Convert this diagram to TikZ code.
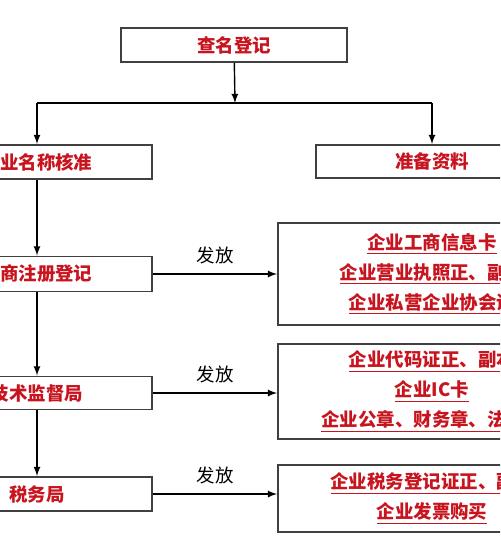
\documentclass[tikz,border=0pt]{standalone}
\usepackage{fontspec}
\newfontfamily\cjk{Noto Sans CJK SC}
\definecolor{boxred}{RGB}{200,20,30}

\begin{document}
\begin{tikzpicture}[x=0.02cm, y=-0.02cm,
  box/.style={draw=black!75, line width=1.1pt, rectangle, inner sep=0pt,
    font=\cjk\bfseries\fontsize{10.5}{17}\selectfont, text=boxred, align=center},
  give/.style={font=\cjk\fontsize{10.5}{13}\selectfont, text=black}]

\useasboundingbox (0,0) rectangle (500,550);
\clip (0,0) rectangle (500,550);

% top step
\node[box, minimum width=4.52cm, minimum height=0.68cm] (name_check) at (234,45) {查名登记};
\coordinate (split) at (235,103);
\draw[->, >=latex, line width=0.8pt] (name_check) -- (split);
\draw[line width=0.8pt] (split -| 37,0) -- (split -| 432,0);


% left column
\node[box, minimum width=4.6cm, minimum height=0.68cm] (name_approval) at (37,162) {企业名称核准};
\node[box, minimum width=4.6cm, minimum height=0.7cm] (registration) at (37,274) {工商注册登记};
\node[box, minimum width=4.6cm, minimum height=0.66cm] (quality_bureau) at (37,393) {技术监督局};
\node[box, minimum width=4.6cm, minimum height=0.68cm] (tax_bureau) at (37,494) {税务局};

\draw[->, >=latex, line width=0.8pt] (split -| name_approval) -- (name_approval);
\draw[->, >=latex, line width=0.8pt] (name_approval) -- (registration);
\draw[->, >=latex, line width=0.8pt] (registration) -- (quality_bureau);
\draw[->, >=latex, line width=0.8pt] (quality_bureau) -- (tax_bureau);


% right column
\node[box, minimum width=4.64cm, minimum height=0.66cm] (prepare) at (432,161.5) {准备资料};
\draw[->, >=latex, line width=0.8pt] (split -| prepare) -- (prepare);

\node[box, minimum width=6.16cm, minimum height=2.04cm] (cards_reg) at (432,274)
  {\underline{企业工商信息卡}\\ \underline{企业营业执照正、副本}\\ \underline{企业私营企业协会证}};
\node[box, minimum width=6.16cm, minimum height=1.9cm] (cards_quality) at (432,391.5)
  {\underline{企业代码证正、副本}\\ \underline{企业IC卡}\\ \underline{企业公章、财务章、法人章}};
\node[box, minimum width=6.16cm, minimum height=1.34cm] (cards_tax) at (432,498.5)
  {\underline{企业税务登记证正、副本}\\ \underline{企业发票购买}};


% hand out
\draw[->, >=latex, line width=0.8pt] (registration.east) -- (registration.east -| cards_reg.west)
  node[give, midway, above=2pt] (give_reg) {发放};
\draw[->, >=latex, line width=0.8pt] (quality_bureau.east) -- (quality_bureau.east -| cards_quality.west)
  node[give, midway, above=2pt] (give_quality) {发放};
\draw[->, >=latex, line width=0.8pt] (tax_bureau.east) -- (tax_bureau.east -| cards_tax.west)
  node[give, midway, above=2pt] (give_tax) {发放};

\end{tikzpicture}
\end{document}
